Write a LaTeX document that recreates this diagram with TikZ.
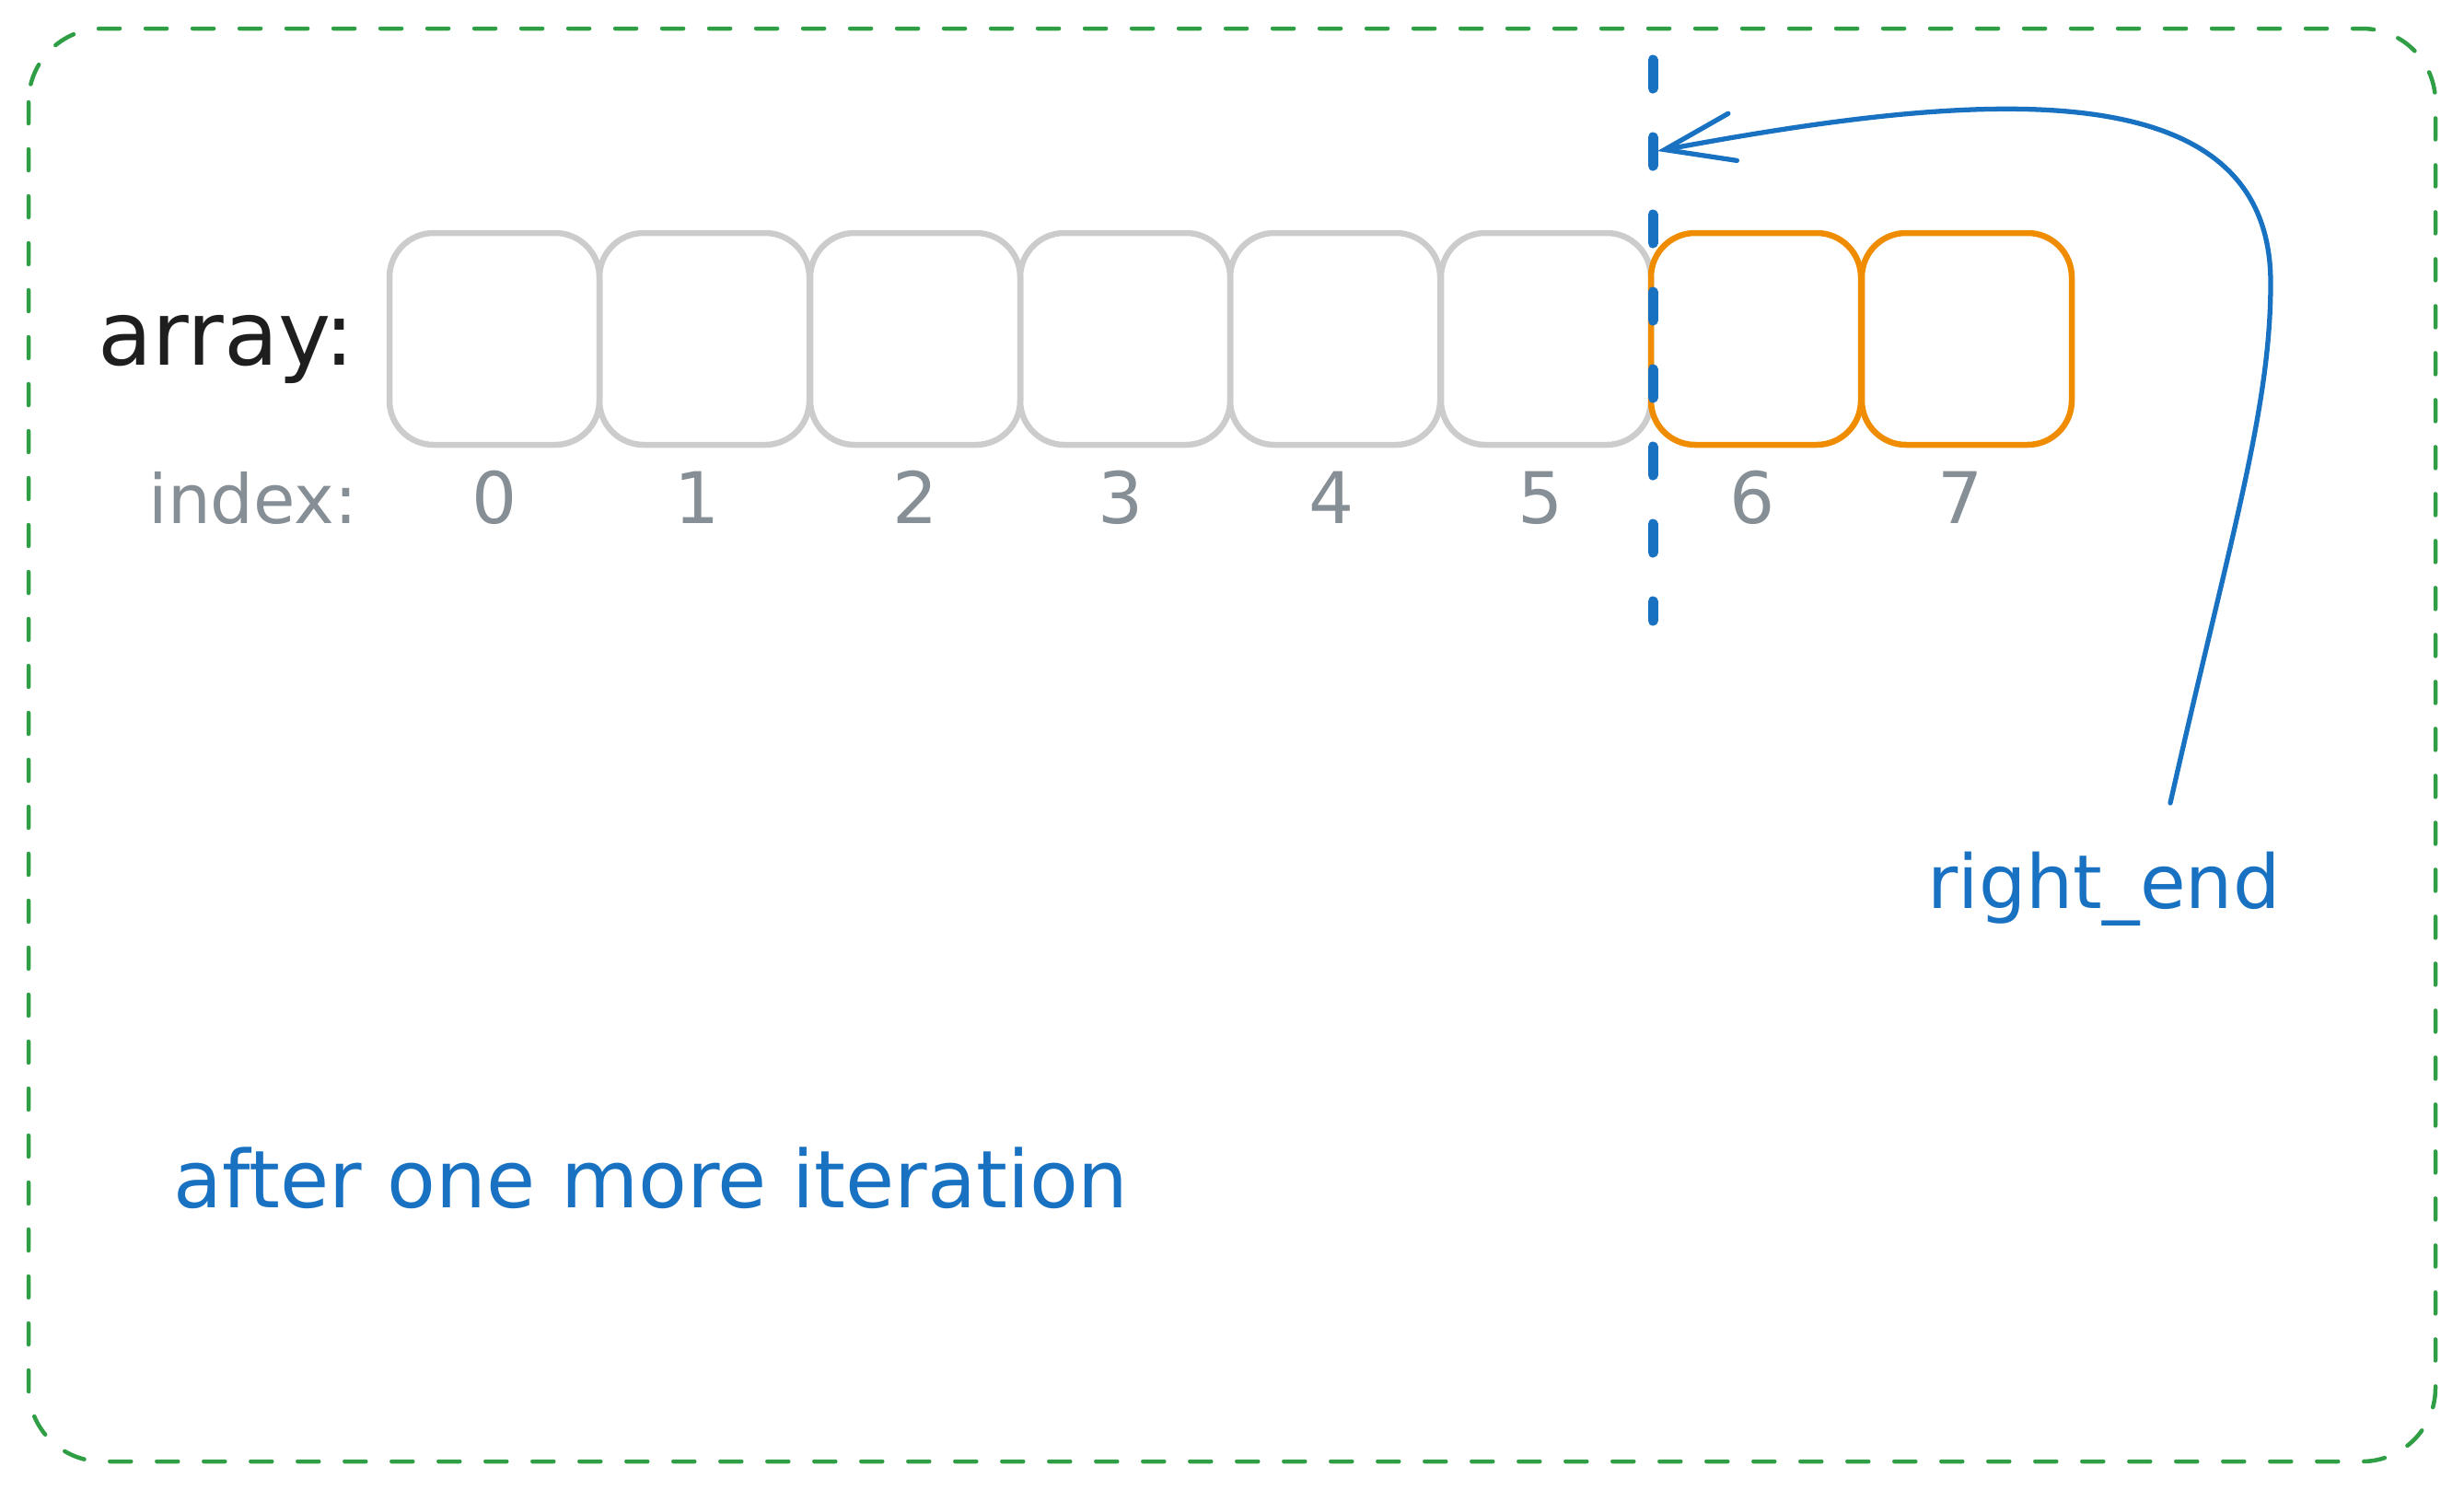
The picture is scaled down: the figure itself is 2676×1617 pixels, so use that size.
\documentclass[tikz,border=0pt]{standalone}
\usepackage{fontspec}
\setmainfont{DejaVu Sans}
\usetikzlibrary{arrows.meta}
\definecolor{cellgray}{HTML}{CCCCCC}
\definecolor{hotorange}{HTML}{F08C00}
\definecolor{idxgray}{HTML}{868E96}
\definecolor{ptrblue}{HTML}{1971C2}
\definecolor{framegreen}{HTML}{2F9E44}
\definecolor{inkblack}{HTML}{1E1E1E}

\begin{document}
\begin{tikzpicture}[x=0.1mm,y=-0.1mm,
cell/.style = {draw=cellgray, line width=0.65mm, rounded corners=4.8mm,
  minimum width=22.8mm, minimum height=23mm, inner sep=0pt},
hot/.style = {cell, draw=hotorange},
num/.style = {text=idxgray, font=\fontsize{22}{26}\selectfont, anchor=base, inner sep=0pt},
note/.style = {text=ptrblue, inner sep=0pt}]
\useasboundingbox (0,0) rectangle (2676,1617);
% frame
\draw[framegreen, line width=0.45mm, line cap=round, dash pattern=on 2.3mm off 2.8mm,
  rounded corners=8mm] (31,31) rectangle (2645,1587);

% array cells
    \node[cell] (cell0) at ( 537,368) {};
    \node[cell] (cell1) at ( 765,368) {};
    \node[cell] (cell2) at ( 994,368) {};
    \node[cell] (cell3) at (1222,368) {};
    \node[cell] (cell4) at (1450,368) {};
    \node[cell] (cell5) at (1679,368) {};
    \node[hot]  (cell6) at (1907,368) {};
    \node[hot]  (cell7) at (2136,368) {};

\node[anchor=base east, text=inkblack, inner sep=0pt, font=\fontsize{27.5}{32}\selectfont]
  (arraylbl) at (386,396) {array:};
\node[anchor=base east, text=idxgray, inner sep=0pt, font=\fontsize{21}{25}\selectfont]
  (indexlbl) at (389,568) {index:};

    \node[num] (num0) at ( 537,568) {0};
    \node[num] (num1) at ( 757,568) {1};
    \node[num] (num2) at ( 994,568) {2};
    \node[num] (num3) at (1217,568) {3};
    \node[num] (num4) at (1446,568) {4};
    \node[num] (num5) at (1673,568) {5};
    \node[num] (num6) at (1903,568) {6};
    \node[num] (num7) at (2129,568) {7};

% right end marker
\coordinate (cuttop) at (1795,65);
\coordinate (cutbot) at (1795,674);
\coordinate (cuttip) at (1800,164);
\draw[ptrblue, line width=1.1mm, line cap=round, dash pattern=on 3.1mm off 5.3mm]
  (cuttop) -- (cutbot);

\node[note, anchor=base, font=\fontsize{23}{27}\selectfont] (rightlbl) at (2285,986) {right\_end};
\coordinate (ptrtail) at (2357,872);
\draw[ptrblue, line width=1.5pt, line cap=round,
  -{Straight Barb[length=7.5mm,width=5.2mm,line cap=round]}]
  (ptrtail) .. controls (2423,580) and (2466,444) .. (2466,307)
  .. controls (2466,68) and (2133,102) .. (cuttip);

\node[note, anchor=base west, font=\fontsize{24.6}{29}\selectfont] (caption) at (188,1311)
  {after one more iteration};

\end{tikzpicture}
\end{document}
